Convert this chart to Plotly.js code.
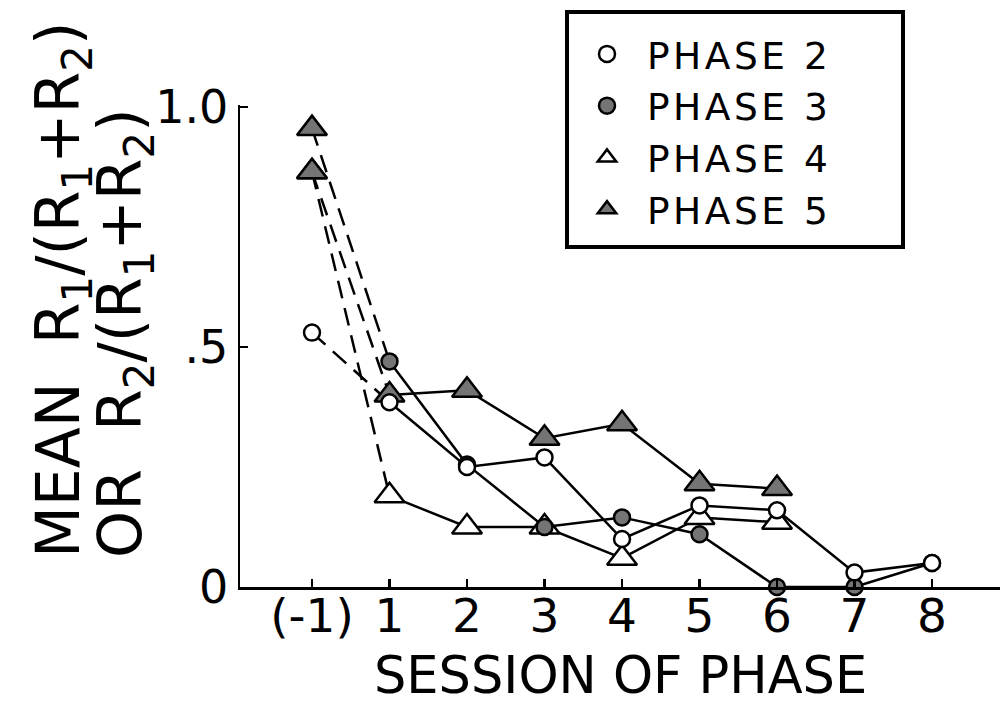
<!DOCTYPE html>
<html><head><meta charset="utf-8">
<script src="https://cdn.plot.ly/plotly-3.0.1.min.js"></script>
<style>html,body{margin:0;padding:0;background:#fff;} #chart{width:1007px;height:706px;}
.legendtext{letter-spacing:3.5px;}</style>
</head><body><div id="chart"></div>
<script>
// x positions: 0 = "(-1)" (last session of previous phase), 1..8 = sessions
const tickVals = [0, 1, 2, 3, 4, 5, 6, 7, 8];
const tickLabels = ['(-1)', '1', '2', '3', '4', '5', '6', '7', '8'];
const sessions = [1, 2, 3, 4, 5, 6, 7, 8];
const priorSession = 0;

const phaseNames = ['PHASE 2', 'PHASE 3', 'PHASE 4', 'PHASE 5'];
const phase2 = [0.385, 0.25, 0.27, 0.10, 0.17, 0.16, 0.03, 0.05];
const phase3 = [0.47, 0.255, 0.125, 0.145, 0.11, 0.0, 0.0, 0.05];
const phase4 = [0.19, 0.125, 0.125, 0.06, 0.145, 0.135];
const phase5 = [0.40, 0.41, 0.31, 0.34, 0.215, 0.205];
const priorValues = [0.53, 0.955, 0.865, 0.865]; // (-1) values for phases 2..5

const yTickVals = [0, 0.5, 1.0];
const yTickText = ['0', '.5', '1.0'];

const series = [phase2, phase3, phase4, phase5];
const SHADE = '#747474';
const styles = [
  {symbol: 'circle', fill: '#ffffff', size: 16},
  {symbol: 'circle', fill: SHADE, size: 16},
  {symbol: 'triangle-up', fill: '#ffffff', size: 26},
  {symbol: 'triangle-up', fill: SHADE, size: 26}
];
const priorStyles = [
  {symbol: 'circle', fill: '#ffffff', size: 16},
  {symbol: 'triangle-up', fill: SHADE, size: 26},
  {symbol: 'triangle-up', fill: SHADE, size: 26},
  {symbol: 'triangle-up', fill: SHADE, size: 26}
];

const LW = 2.5;
const traces = [];

// dashed connectors from (-1) to session 1
series.forEach((s, i) => {
  traces.push({
    x: [priorSession, sessions[0]], y: [priorValues[i], s[0]],
    mode: 'lines', line: {color: '#000', width: LW, dash: '18px,10px'},
    showlegend: false, hoverinfo: 'skip', cliponaxis: false
  });
});

// main series, drawn so phase 2 ends on top
[2, 3, 1, 0].forEach(i => {
  const s = series[i];
  traces.push({
    x: sessions.slice(0, s.length), y: s,
    mode: 'lines+markers',
    line: {color: '#000', width: LW},
    marker: {symbol: styles[i].symbol, size: styles[i].size, color: styles[i].fill,
             opacity: 1, line: {color: '#000', width: LW}},
    showlegend: false, cliponaxis: false, name: phaseNames[i]
  });
});

// (-1) markers
traces.push({
  x: priorValues.map(() => priorSession), y: priorValues,
  mode: 'markers',
  marker: {symbol: priorStyles.map(p => p.symbol), size: priorStyles.map(p => p.size),
           color: priorStyles.map(p => p.fill), opacity: 1, line: {color: '#000', width: LW}},
  showlegend: false, cliponaxis: false
});

// legend entries (markers only)
phaseNames.forEach((n, i) => {
  traces.push({
    x: [null], y: [null], mode: 'markers', name: n,
    marker: {symbol: styles[i].symbol, size: 16, color: styles[i].fill, opacity: 1,
             line: {color: '#000', width: 2.5}},
    showlegend: true
  });
});

const L = 240, R = 7, T = 105, B = 119;
const W = 1007 - L - R, H = 706 - T - B;
const px2paperX = px => (px - L) / W;
const px2paperY = py => (706 - B - py) / H;

const layout = {
  width: 1007, height: 706,
  margin: {l: L, r: R, t: T, b: B},
  paper_bgcolor: '#fff', plot_bgcolor: '#fff',
  font: {family: 'DejaVu Sans, sans-serif', color: '#000'},
  showlegend: true,
  legend: {x: px2paperX(567), y: px2paperY(23), xanchor: 'left', yanchor: 'top',
           borderwidth: 0, bgcolor: 'rgba(0,0,0,0)', itemwidth: 70,
           font: {size: 37.5, color: '#000'}, tracegroupgap: 0},
  shapes: [
    {type: 'rect', xref: 'paper', yref: 'paper', layer: 'above',
     x0: px2paperX(567), x1: px2paperX(903), y0: px2paperY(12), y1: px2paperY(247),
     line: {color: '#000', width: 4}, fillcolor: 'rgba(0,0,0,0)'}
  ],
  xaxis: {range: [-0.929, 8.877], tickmode: 'array', tickvals: tickVals, ticktext: tickLabels,
          ticks: 'inside', ticklen: 8, tickwidth: 2.5, tickcolor: '#000',
          showline: true, linewidth: 2.5, linecolor: '#000', showgrid: false, zeroline: false,
          tickfont: {size: 47}, ticklabelstandoff: -14, fixedrange: true},
  yaxis: {range: [0, 1.0042], tickmode: 'array', tickvals: yTickVals, ticktext: yTickText,
          ticks: 'inside', ticklen: 8, tickwidth: 2.5, tickcolor: '#000',
          showline: true, linewidth: 2.5, linecolor: '#000', showgrid: false, zeroline: false,
          tickfont: {size: 46}, fixedrange: true},
  annotations: [
    {text: 'SESSION OF PHASE', xref: 'paper', yref: 'paper', x: px2paperX(620), y: px2paperY(675),
     xanchor: 'center', yanchor: 'middle', showarrow: false, font: {size: 51}},
    {text: 'MEAN  R<sub>1</sub>/(R<sub>1</sub>+R<sub>2</sub>)', xref: 'paper', yref: 'paper',
     x: px2paperX(62), y: px2paperY(560), xanchor: 'center', yanchor: 'bottom', textangle: -90,
     showarrow: false, font: {size: 60}},
    {text: 'OR  R<sub>2</sub>/(R<sub>1</sub>+R<sub>2</sub>)', xref: 'paper', yref: 'paper',
     x: px2paperX(124), y: px2paperY(560), xanchor: 'center', yanchor: 'bottom', textangle: -90,
     showarrow: false, font: {size: 60}}
  ]
};

Plotly.newPlot('chart', traces, layout, {displayModeBar: false, staticPlot: true});
</script>
</body></html>
